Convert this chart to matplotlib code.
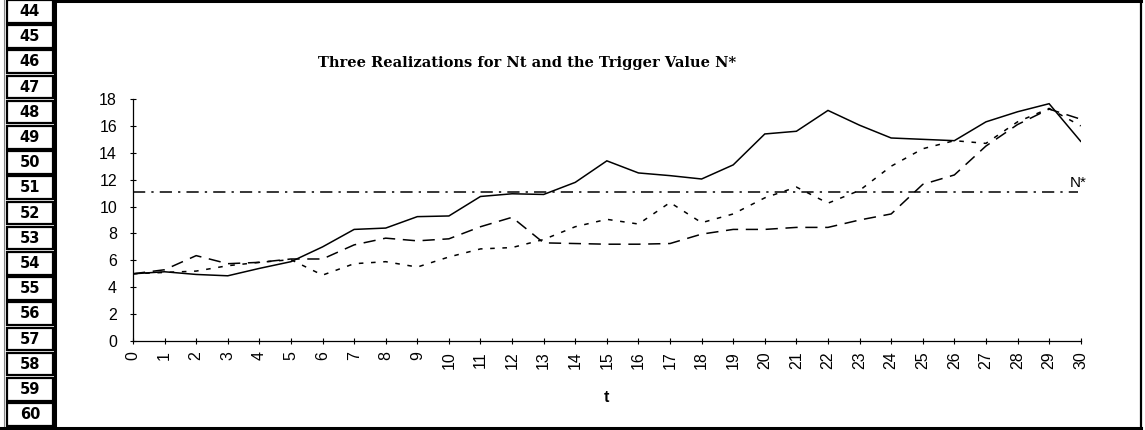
import matplotlib
matplotlib.use("Agg")
import matplotlib.pyplot as plt
from matplotlib.patches import Rectangle

# ---- data -------------------------------------------------------------
t_values = list(range(0, 31))
realization_1 = [5.0, 5.15, 4.95, 4.85, 5.4, 5.9, 7.0, 8.3, 8.4, 9.25, 9.3,
                 10.75, 10.95, 10.9, 11.8, 13.4, 12.5, 12.3, 12.05, 13.1, 15.4,
                 15.6, 17.15, 16.05, 15.1, 15.0, 14.9, 16.3, 17.05, 17.65, 14.85]
realization_2 = [5.0, 5.3, 6.35, 5.75, 5.85, 6.1, 6.1, 7.15, 7.65, 7.45, 7.6,
                 8.5, 9.2, 7.3, 7.25, 7.2, 7.2, 7.25, 7.95, 8.3, 8.3,
                 8.45, 8.45, 9.0, 9.45, 11.65, 12.35, 14.5, 16.1, 17.25, 16.5]
realization_3 = [5.0, 5.1, 5.2, 5.6, 5.85, 6.05, 4.9, 5.75, 5.9, 5.5, 6.25,
                 6.85, 6.95, 7.55, 8.5, 9.05, 8.7, 10.3, 8.8, 9.45, 10.65,
                 11.45, 10.25, 11.2, 13.0, 14.3, 14.9, 14.7, 16.3, 17.3, 16.0]
trigger_value = 11.1
y_ticks = list(range(0, 19, 2))
row_numbers = list(range(44, 61))

title = "Three Realizations for Nt and the Trigger Value N*"

# ---- figure -----------------------------------------------------------
W, H = 1145, 430
fig = plt.figure(figsize=(W / 100, H / 100), dpi=100)

# overlay in pixel units for the sheet frame and row headers
frame = fig.add_axes([0, 0, 1, 1])
frame.set_xlim(0, W)
frame.set_ylim(H, 0)
frame.axis("off")

pitch = 25.2
for i, rn in enumerate(row_numbers):
    top = i * pitch
    frame.add_patch(Rectangle((7, top), 46, 22.5, fill=False,
                              edgecolor="black", linewidth=1.6))
    frame.text(30, top + 11.5, str(rn), ha="center", va="center",
               fontsize=10.5, fontweight="bold", family="DejaVu Sans")
frame.plot([4, 4], [0, H], color="#888888", linewidth=0.8)
# chart border
frame.plot([55, 55], [0, 428], color="black", linewidth=2.2)
frame.plot([55, 1141], [1, 1], color="black", linewidth=2.2)
frame.plot([1141, 1141], [0, 428], color="black", linewidth=1.6)
frame.plot([0, 1141], [428, 428], color="black", linewidth=2.2)

frame.text(527, 63, title, ha="center", va="center", fontsize=10.5,
           fontweight="bold", family="DejaVu Serif")

# ---- plot area --------------------------------------------------------
x0, x1 = 133, 1080.7
y0, y1 = 341, 99
ax = fig.add_axes([x0 / W, (H - y0) / H, (x1 - x0) / W, (y0 - y1) / H])
ax.set_xlim(0, 30)
ax.set_ylim(0, 18)
ax.patch.set_alpha(0)

ax.plot(t_values, realization_1, color="black", linewidth=1.1,
        linestyle="-", solid_joinstyle="miter")
ax.plot(t_values, realization_2, color="black", linewidth=1.1,
        linestyle=(0, (8, 5)))
ax.plot(t_values, realization_3, color="black", linewidth=1.1,
        linestyle=(0, (3, 5)))
ax.plot([0, 29.9], [trigger_value, trigger_value], color="black",
        linewidth=1.1, linestyle=(0, (8, 4, 1.5, 4)))
ax.text(29.65, trigger_value + 0.15, "N*", ha="left", va="bottom",
        fontsize=11, family="Liberation Sans")

for side in ("top", "right"):
    ax.spines[side].set_visible(False)
for side in ("left", "bottom"):
    ax.spines[side].set_linewidth(0.9)

ax.set_yticks(y_ticks)
ax.set_yticklabels([str(v) for v in y_ticks], fontsize=11.5,
                   family="Liberation Sans")
ax.set_xticks(t_values)
ax.set_xticklabels([str(v) for v in t_values], rotation=90, fontsize=11.5,
                   family="Liberation Sans")
ax.tick_params(axis="y", direction="inout", length=5, width=0.8, pad=9)
ax.tick_params(axis="x", direction="inout", length=5, width=0.8, pad=5)
ax.set_xlabel("t", fontsize=11.5, fontweight="bold", family="Liberation Sans",
              labelpad=15)

fig.savefig("out.png", dpi=100)
